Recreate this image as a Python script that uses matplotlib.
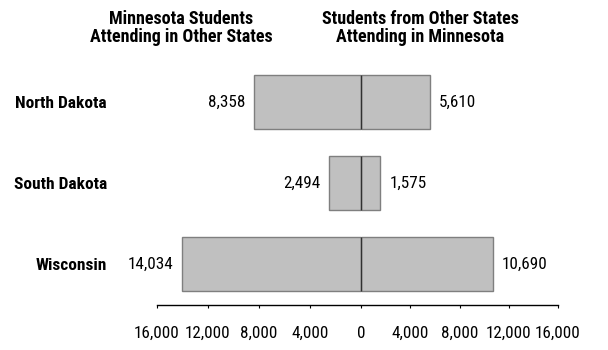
import matplotlib
matplotlib.use('Agg')
import matplotlib.pyplot as plt

plt.rcParams['font.family'] = ['Roboto Condensed', 'DejaVu Sans']

states = ['North Dakota', 'South Dakota', 'Wisconsin']
mn_out = [8358, 2494, 14034]   # Minnesota students attending in other states
mn_in = [5610, 1575, 10690]    # students from other states attending in Minnesota
left_ticks = [16000, 12000, 8000, 4000, 0]
right_ticks = [4000, 8000, 12000, 16000]

fig = plt.figure(figsize=(6.08, 3.5), dpi=100)
axl = fig.add_axes([157/608, 45/350, 204/608, 243.5/350])
axr = fig.add_axes([361/608, 45/350, 197/608, 243.5/350])

pos = list(range(len(states)))
bh = 0.667
for ax, vals, sign in [(axl, mn_out, -1), (axr, mn_in, 1)]:
    ax.barh(pos, vals, height=bh, color='#c0c0c0', edgecolor='#7f7f7f', linewidth=1)
    ax.vlines([0]*len(pos), [p - bh/2 for p in pos], [p + bh/2 for p in pos], color='#303030', linewidth=1)
    for p, v in zip(pos, vals):
        ax.annotate(f'{v:,}', (v, p), xytext=(sign*6.5, 0), textcoords='offset points',
                    ha='left' if sign > 0 else 'right', va='center', fontsize=12.3)
    ax.set_ylim(2.506, -0.5)
    for s in ['top', 'left', 'right']:
        ax.spines[s].set_visible(False)
    ax.spines['bottom'].set_color('black')
    ax.spines['bottom'].set_linewidth(1)
    ax.tick_params(axis='x', direction='out', length=2, pad=13, labelsize=12.3, color='black')

axl.set_xlim(16000, 0)
axl.set_xticks(left_ticks)
axl.set_xticklabels([f'{t:,}' for t in left_ticks])
axl.set_yticks(pos)
axl.set_yticklabels(states, fontsize=12.5, fontweight='bold')
axl.tick_params(axis='y', length=0, pad=36)

axr.set_xlim(0, 16000)
axr.set_xticks(right_ticks)
axr.set_xticklabels([f'{t:,}' for t in right_ticks])
axr.set_yticks([])

fig.text(181/608, 1 - 9.5/350, 'Minnesota Students\nAttending in Other States', ha='center', va='top',
         fontsize=13, fontweight='bold', linespacing=1.05)
fig.text(420/608, 1 - 9.5/350, 'Students from Other States\nAttending in Minnesota', ha='center', va='top',
         fontsize=13, fontweight='bold', linespacing=1.05)

fig.savefig('out.png', dpi=100)
